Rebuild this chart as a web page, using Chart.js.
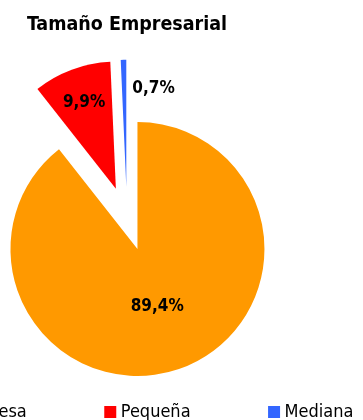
<!DOCTYPE html>
<html>
<head>
<meta charset="utf-8">
<title>Tamaño Empresarial</title>
<script src="https://cdn.jsdelivr.net/npm/chart.js@4.4.0/dist/chart.umd.min.js"></script>
<style>
  html, body { margin: 0; padding: 0; background: #fff; }
  #wrap { position: relative; width: 363px; height: 420px; overflow: hidden; }
  #chart { position: absolute; left: -273px; top: 0; }
</style>
</head>
<body>
<div id="wrap"><canvas id="chart" width="800" height="440"></canvas></div>
<script>
const categories = ['Microempresa', 'Pequeña', 'Mediana'];
const shares = [89.4, 9.9, 0.7];
const sliceColors = ['#FF9900', '#FF0000', '#3366FF'];

const FONT = '"DejaVu Sans Condensed", "DejaVu Sans", sans-serif';
const EXPLODE = 32;

// where each percentage sits: fraction of the radius along the slice,
// tiny slices get their label beside them instead of inside
const labelPlace = [
  { r: 0.476 },
  { r: 0.72 },
  { r: 0.776, outside: true, gap: 6 }
];

// pull every slice out from the centre along its bisector
const explode = {
  id: 'explode',
  afterDatasetUpdate(chart, args) {
    args.meta.data.forEach(arc => {
      const mid = (arc.startAngle + arc.endAngle) / 2;
      arc.x += Math.cos(mid) * EXPLODE;
      arc.y += Math.sin(mid) * EXPLODE;
    });
  }
};

const sliceLabels = {
  id: 'sliceLabels',
  afterDatasetsDraw(chart) {
    const ctx = chart.ctx;
    const meta = chart.getDatasetMeta(0);
    ctx.save();
    ctx.font = 'bold 17px ' + FONT;
    ctx.fillStyle = '#000';
    ctx.textBaseline = 'middle';
    meta.data.forEach((arc, i) => {
      const place = labelPlace[i];
      const mid = (arc.startAngle + arc.endAngle) / 2;
      const r = arc.outerRadius * place.r;
      const text = shares[i].toFixed(1).replace('.', ',') + '%';
      if (place.outside) {
        ctx.textAlign = 'left';
        ctx.fillText(text, arc.x + Math.cos(arc.endAngle) * r + place.gap, arc.y + Math.sin(mid) * r);
      } else {
        ctx.textAlign = 'center';
        ctx.fillText(text, arc.x + Math.cos(mid) * r, arc.y + Math.sin(mid) * r);
      }
    });
    ctx.restore();
  }
};

new Chart(document.getElementById('chart'), {
  type: 'pie',
  data: {
    labels: categories,
    datasets: [{
      data: shares,
      backgroundColor: sliceColors,
      borderWidth: 0,
      clip: false
    }]
  },
  options: {
    responsive: false,
    animation: false,
    events: [],
    radius: 127,
    layout: { padding: { top: 0, right: 0, bottom: 9, left: 0 } },
    plugins: {
      title: {
        display: true,
        text: 'Tamaño Empresarial',
        color: '#000',
        font: { family: FONT, size: 19.5, weight: 'bold' },
        padding: { top: 13.3, bottom: 79.8 }
      },
      legend: {
        position: 'bottom',
        labels: {
          usePointStyle: true,
          pointStyle: 'rect',
          boxWidth: 3,
          boxHeight: 12,
          padding: 82,
          color: '#000',
          font: { family: FONT, size: 18 }
        }
      },
      tooltip: { enabled: false }
    }
  },
  plugins: [explode, sliceLabels]
});
</script>
</body>
</html>
